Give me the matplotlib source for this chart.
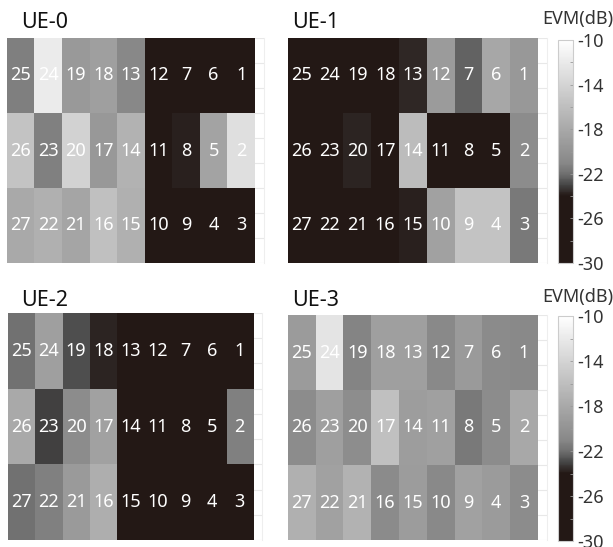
import numpy as np
import matplotlib.pyplot as plt
from matplotlib.colors import LinearSegmentedColormap

plt.rcParams['font.family'] = ['Noto Sans', 'DejaVu Sans']

# cell numbering (same layout in every panel)
cell_ids = [[25, 24, 19, 18, 13, 12, 7, 6, 1],
            [26, 23, 20, 17, 14, 11, 8, 5, 2],
            [27, 22, 21, 16, 15, 10, 9, 4, 3]]

# EVM in dB
ue0 = [[-21.4, -11.8, -19.4, -18.8, -21.0, -27.0, -27.0, -27.0, -27.0],
       [-15.5, -21.3, -14.2, -19.5, -17.1, -26.0, -23.8, -18.5, -12.9],
       [-17.9, -17.3, -18.3, -15.8, -17.2, -27.0, -27.0, -27.0, -27.0]]
ue1 = [[-27.0, -27.0, -27.0, -27.0, -23.6, -19.2, -22.3, -18.1, -19.5],
       [-27.0, -27.0, -23.7, -27.0, -16.1, -27.0, -27.0, -27.0, -20.6],
       [-27.0, -27.0, -27.0, -27.0, -23.8, -18.6, -15.5, -15.5, -21.6]]
ue2 = [[-21.9, -18.8, -22.8, -23.7, -27.0, -27.0, -27.0, -27.0, -27.0],
       [-17.9, -23.1, -20.6, -18.6, -27.0, -27.0, -27.0, -27.0, -21.3],
       [-21.9, -21.3, -19.3, -17.5, -27.0, -27.0, -27.0, -27.0, -27.0]]
ue3 = [[-19.2, -12.5, -21.1, -18.9, -18.9, -20.8, -19.3, -20.7, -20.8],
       [-20.6, -18.8, -20.5, -15.8, -19.0, -18.7, -21.6, -20.6, -18.0],
       [-17.3, -18.6, -17.1, -20.7, -19.1, -20.8, -18.6, -19.2, -20.6]]
titles = ['UE-0', 'UE-1', 'UE-2', 'UE-3']

vmin, vmax = -30, -10
stops = [(-30, '#231815'), (-24, '#231815'), (-23, '#454545'),
         (-22, '#707070'), (-21, '#888888'), (-10, '#ffffff')]
cmap = LinearSegmentedColormap.from_list(
    'evm', [((v - vmin) / (vmax - vmin), c) for v, c in stops])

W, H = 613, 547
fig = plt.figure(figsize=(W / 100, H / 100), dpi=100)


def box(x0, y0, x1, y1):
    return [x0 / W, 1 - y1 / H, (x1 - x0) / W, (y1 - y0) / H]


panels = [(box(7, 38, 264, 263), (21, 22)),
          (box(288, 38, 547, 263), (292, 22)),
          (box(8, 313, 262, 540), (21, 301)),
          (box(288, 315, 547, 540), (292, 301))]

for data, title, (rect, tpos) in zip([ue0, ue1, ue2, ue3], titles, panels):
    ax = fig.add_axes(rect)
    im = ax.imshow(np.array(data), cmap=cmap, vmin=vmin, vmax=vmax,
                   aspect='auto', interpolation='nearest', zorder=2)
    ax.set_xlim(-0.5, 8.83)
    ax.set_ylim(2.5, -0.5)
    for y in np.arange(-0.5, 2.6, 1 / 3):
        ax.axhline(y, color='#e8e8e8', lw=0.8, zorder=1)
    ax.set_xticks([])
    ax.set_yticks([])
    for s in ['top', 'left', 'bottom']:
        ax.spines[s].set_visible(False)
    ax.spines['right'].set_color('#eeeeee')
    ax.spines['right'].set_linewidth(0.8)
    for r in range(3):
        for c in range(9):
            ax.text(c, r, str(cell_ids[r][c]), color='white', fontsize=13,
                    ha='center', va='center', zorder=3)
    fig.text(tpos[0] / W, 1 - tpos[1] / H, title, fontsize=15.5,
             ha='left', va='center', color='#111111')

for (y0, y1, ty) in [(40, 263, 19), (316, 541, 297)]:
    cax = fig.add_axes(box(558, y0, 573, y1))
    cb = fig.colorbar(im, cax=cax)
    cb.set_ticks(np.arange(-30, -9, 2))
    cb.set_ticklabels([str(v) if v % 4 == 2 else '' for v in range(-30, -9, 2)])
    cax.tick_params(direction='in', length=2, width=0.6, color='#999999',
                    labelsize=13, labelcolor='#333333', pad=3)
    cb.outline.set_edgecolor('#cccccc')
    cb.outline.set_linewidth(0.8)
    fig.text(578 / W, 1 - ty / H, 'EVM(dB)', fontsize=13,
             ha='center', va='center', color='#333333')

fig.savefig('out.png', dpi=100)
